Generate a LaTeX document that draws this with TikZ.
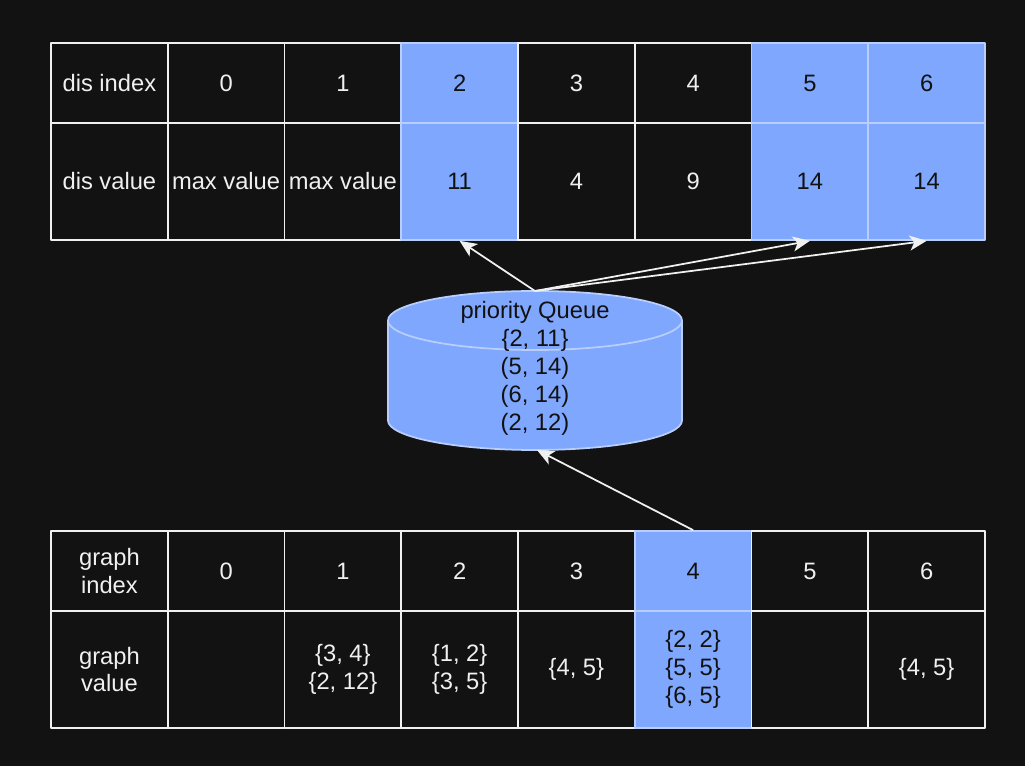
\documentclass[tikz,border=0pt]{standalone}
\usepackage{fontspec}
\setmainfont{Liberation Sans}
\usetikzlibrary{arrows.meta}
\definecolor{bgcol}{HTML}{121212}
\definecolor{linecol}{HTML}{F0F0F0}
\definecolor{qblue}{HTML}{7FA7FD}
\definecolor{qedge}{HTML}{B9CEFC}
\definecolor{qtext}{HTML}{111111}
\begin{document}
\begin{tikzpicture}[x=0.02cm,y=0.02cm,>={Stealth[length=0.34cm,width=0.3cm,inset=0.09cm]},line join=round,
	font=\fontsize{13.5pt}{15.9pt}\selectfont,
	cell/.style={draw=linecol,fill=bgcol,text=linecol,line width=1pt,minimum width=2.335cm,inner sep=0pt,align=center},
	hot/.style={cell,fill=qblue,draw=qedge,text=qtext},
	toprow/.style={minimum height=1.6cm},
	lowrow/.style={minimum height=2.34cm}]
	\fill[bgcol] (0,0) rectangle (1025,-766);
	% dis table
	\node[cell,toprow] (dil) at (109.4,-83) {dis index};
	\node[cell,lowrow] (dvl) at (109.4,-181.5) {dis value};
	\foreach \v/\s [count=\i from 0] in {0/cell,1/cell,2/hot,3/cell,4/cell,5/hot,6/hot}
		\node[\s,toprow] (di-\i) at ({226.1+116.75*\i},-83) {\v};
	\foreach \v/\s [count=\i from 0] in {max value/cell,max value/cell,11/hot,4/cell,9/cell,14/hot,14/hot}
		\node[\s,lowrow] (dv-\i) at ({226.1+116.75*\i},-181.5) {\v};
	% graph table
	\node[cell,toprow] (gil) at (109.4,-571) {graph\\index};
	\node[cell,lowrow] (gvl) at (109.4,-669.5) {graph\\value};
	\foreach \v/\s [count=\i from 0] in {0/cell,1/cell,2/cell,3/cell,4/hot,5/cell,6/cell}
		\node[\s,toprow] (gi-\i) at ({226.1+116.75*\i},-571) {\v};
	\node[cell,lowrow] (gv-0) at (226.1,-669.5) {};
	\node[cell,lowrow] (gv-1) at (342.9,-669.5) {\{3, 4\}\\\{2, 12\}};
	\node[cell,lowrow] (gv-2) at (459.6,-669.5) {\{1, 2\}\\\{3, 5\}};
	\node[cell,lowrow] (gv-3) at (576.4,-669.5) {\{4, 5\}};
	\node[hot,lowrow] (gv-4) at (693.1,-669.5) {\{2, 2\}\\\{5, 5\}\\\{6, 5\}};
	\node[cell,lowrow] (gv-5) at (809.9,-669.5) {};
	\node[cell,lowrow] (gv-6) at (926.6,-669.5) {\{4, 5\}};
	% priority queue
	\fill[qblue] (388,-320.5) -- (388,-420.5) arc (180:360:147 and 29.5) -- (682,-320.5) arc (0:180:147 and 29.5) -- cycle;
	\draw[qedge,line width=1pt] (388,-320.5) -- (388,-420.5) arc (180:360:147 and 29.5) -- (682,-320.5) arc (0:180:147 and 29.5) -- cycle;
	\draw[qedge,line width=1pt] (388,-320.5) arc (180:360:147 and 29.5);
	\coordinate (qtop) at (535,-291);
	\coordinate (qbot) at (537,-450);
	\node[text=qtext,align=center] (queue) at (535,-368) {priority Queue\\\{2, 11\}\\(5, 14)\\(6, 14)\\(2, 12)};
	\draw[->,linecol,line width=1pt] (qtop) -- (dv-2.south);
	\draw[->,linecol,line width=1pt] (qtop) -- (dv-5.south);
	\draw[->,linecol,line width=1pt] (qtop) -- (dv-6.south);
	\draw[->,linecol,line width=1pt] (gi-4.north) -- (qbot);
\end{tikzpicture}
\end{document}
